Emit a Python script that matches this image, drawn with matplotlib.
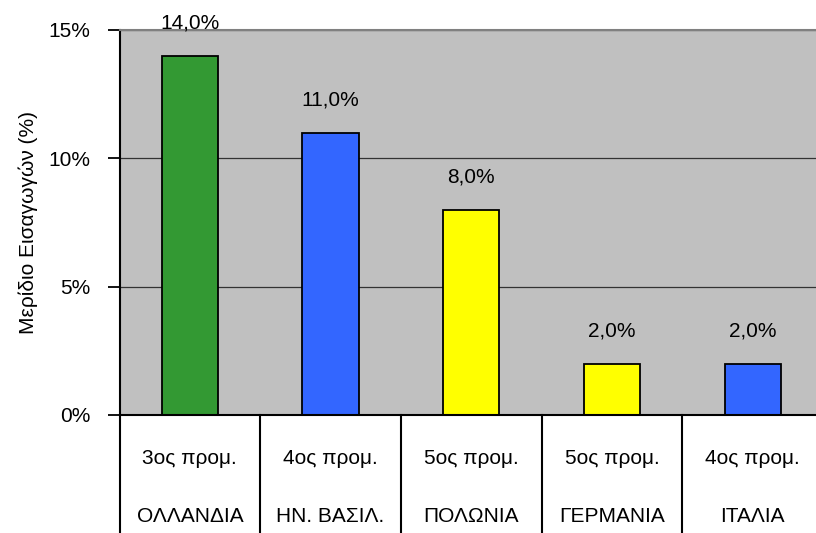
import matplotlib
matplotlib.use("Agg")
import matplotlib.pyplot as plt
from matplotlib.transforms import blended_transform_factory
from matplotlib.ticker import FuncFormatter

countries = ["ΟΛΛΑΝΔΙΑ", "ΗΝ. ΒΑΣΙΛ.", "ΠΟΛΩΝΙΑ", "ΓΕΡΜΑΝΙΑ", "ΙΤΑΛΙΑ"]
ranks = ["3ος προμ.", "4ος προμ.", "5ος προμ.", "5ος προμ.", "4ος προμ."]
shares = [14.0, 11.0, 8.0, 2.0, 2.0]
bar_colors = ["#339933", "#3366FF", "#FFFF00", "#FFFF00", "#3366FF"]
yticks = [0, 5, 10, 15]
ylabel = "Μερίδιο Εισαγωγών (%)"

FONT = ["Liberation Sans Narrow", "Liberation Sans", "DejaVu Sans"]
plt.rcParams["font.family"] = FONT
FS = 15

W, H = 816, 533
fig = plt.figure(figsize=(W / 100, H / 100), dpi=100)
left, right, top, bottom = 119.5, 823, 30, 415
ax = fig.add_axes([left / W, 1 - bottom / H, (right - left) / W, (bottom - top) / H])
ax.set_facecolor("#C0C0C0")

x = list(range(len(countries)))
ax.bar(x, shares, width=0.40, color=bar_colors, edgecolor="black", linewidth=1.3, zorder=3)
ax.set_xlim(-0.5, len(countries) - 0.5)
ax.set_ylim(0, 15)

for xi, v in zip(x, shares):
    ax.annotate(f"{v:.1f}%".replace(".", ","), (xi, v), xytext=(0, 33),
                textcoords="offset pixels",
                ha="center", va="center", fontsize=FS, color="black", zorder=4)

ax.set_yticks(yticks)
ax.yaxis.set_major_formatter(FuncFormatter(lambda v, p: f"{int(v)}%"))
ax.tick_params(axis="y", direction="out", length=9, width=1.3, labelsize=FS, pad=12)
ax.set_xticks([])
ax.grid(axis="y", color="#333333", linewidth=0.9, zorder=1)
ax.set_axisbelow(True)

for s in ["right", "bottom"]:
    ax.spines[s].set_visible(False)
ax.spines["top"].set_color("#808080")
ax.spines["top"].set_linewidth(1.5)
ax.spines["left"].set_color("black")
ax.spines["left"].set_linewidth(1.5)
ax.axhline(0, color="black", linewidth=1.5, zorder=5, clip_on=False)

ax.set_ylabel(ylabel, fontsize=FS)
ax.yaxis.set_label_coords(-(left - 38) / (right - left), 0.5)

# category table below the axis
trans = blended_transform_factory(ax.transData, ax.transAxes)
h = bottom - top
for k in range(len(countries)):
    xb = k - 0.5
    ax.plot([xb, xb], [0, -(H - bottom + 5) / h], transform=trans, color="black",
            linewidth=1.5, clip_on=False)
for xi, r, c in zip(x, ranks, countries):
    ax.text(xi, -(458 - bottom) / h, r, transform=trans, ha="center", va="center", fontsize=FS)
    ax.text(xi, -(517 - bottom) / h, c, transform=trans, ha="center", va="center", fontsize=FS)

fig.savefig("out.png", dpi=100)
